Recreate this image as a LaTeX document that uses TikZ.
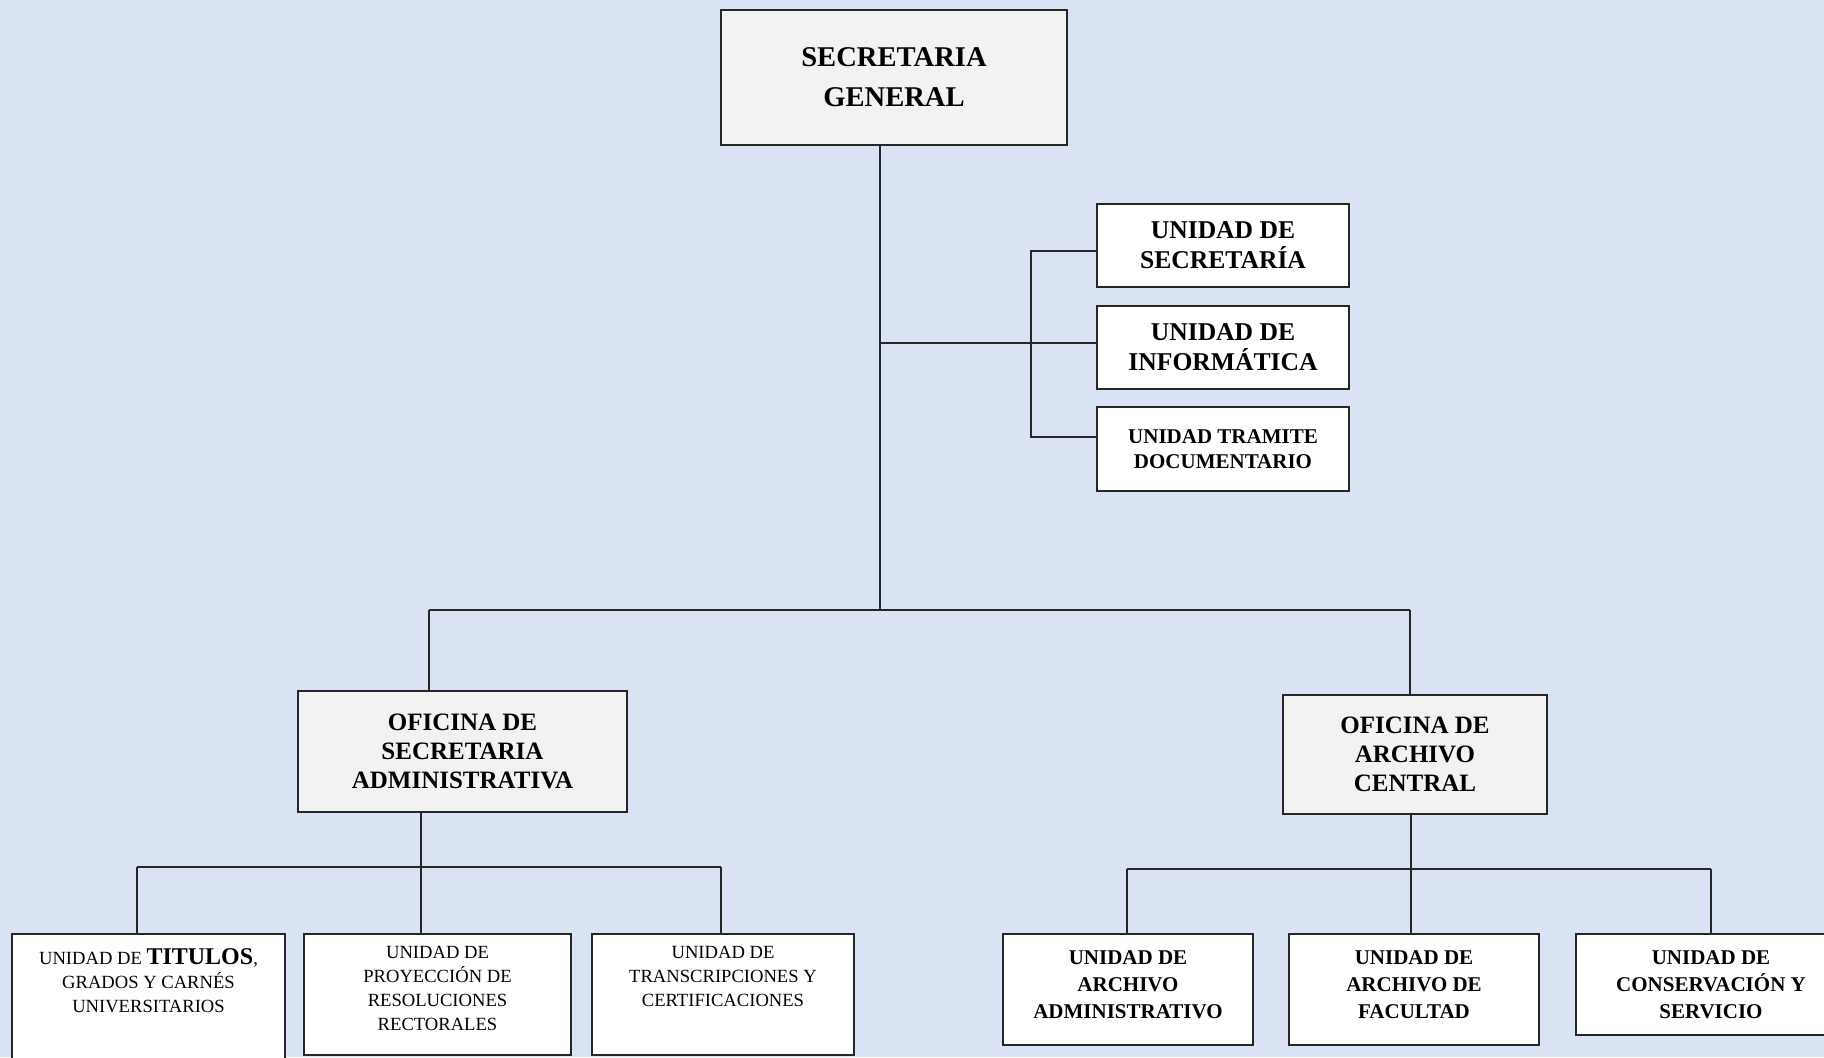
\documentclass[tikz,border=0pt]{standalone}
\usepackage{fontspec}
\setmainfont{Liberation Serif}
\definecolor{bgblue}{HTML}{DAE3F3}
\definecolor{boxgray}{HTML}{F2F2F2}
\definecolor{linec}{HTML}{262626}
\newcommand{\dn}{\rule[-5pt]{0pt}{5pt}}
\begin{document}
\begin{tikzpicture}[x=0.5pt,y=-0.5pt,
  box/.style={draw=linec, line width=1pt, rectangle, inner sep=0pt, align=center},
  graybox/.style={box, fill=boxgray},
  whitebox/.style={box, fill=white},
  conn/.style={draw=linec, line width=1pt},
  topfont/.style={font=\bfseries\fontsize{14.3}{20}\selectfont},
  unitfont/.style={font=\bfseries\fontsize{12.8}{15}\selectfont},
  smallunitfont/.style={font=\bfseries\fontsize{10.5}{12.8}\selectfont},
  offfont/.style={font=\bfseries\fontsize{12.5}{14.5}\selectfont},
  brfont/.style={font=\bfseries\fontsize{10.5}{13.4}\selectfont},
  blfont/.style={font=\fontsize{9.3}{12}\selectfont, align=center, anchor=north, inner sep=0pt}
]
\clip (0,0) rectangle (1824,1057);
\fill[bgblue] (0,0) rectangle (1824,1057);
\useasboundingbox (0,0) rectangle (1824,1057);

% top
\node[graybox, topfont, minimum width=173pt, minimum height=67.5pt] (top) at (894,77.5) {SECRETARIA\\GENERAL};

% right units
\node[whitebox, unitfont, minimum width=126pt, minimum height=41.5pt] (u1) at (1223,245.5) {UNIDAD DE\\SECRETARÍA};
\node[whitebox, unitfont, minimum width=126pt, minimum height=41.5pt] (u2) at (1223,347.5) {UNIDAD DE\\INFORMÁTICA};
\node[whitebox, smallunitfont, minimum width=126pt, minimum height=42pt] (u3) at (1223,449) {UNIDAD TRAMITE\\DOCUMENTARIO};

% offices
\node[graybox, offfont, minimum width=164.5pt, minimum height=60.5pt] (offA) at (462.5,751.5) {OFICINA DE\\SECRETARIA\\ADMINISTRATIVA};
\node[graybox, offfont, minimum width=132pt, minimum height=59.5pt] (offB) at (1415,754.5) {OFICINA DE\\ARCHIVO\\CENTRAL};

% bottom left units
\node[whitebox, minimum width=136.5pt, minimum height=63pt] (bA) at (148.5,997) {};
\node[whitebox, minimum width=133.5pt, minimum height=60.5pt] (bB) at (437.5,994.5) {};
\node[whitebox, minimum width=131pt, minimum height=60.5pt] (bC) at (723,994.5) {};
\node[blfont] (tA) at ([yshift=-7.5pt]bA.north) {UNIDAD DE {\bfseries\fontsize{12}{12}\selectfont TITULOS},\\GRADOS Y CARNÉS\\UNIVERSITARIOS};
\node[blfont] (tB) at ([yshift=-6.5pt]bB.north) {UNIDAD DE\\PROYECCIÓN DE\\RESOLUCIONES\\RECTORALES};
\node[blfont] (tC) at ([yshift=-6.5pt]bC.north) {UNIDAD DE\\TRANSCRIPCIONES Y\\CERTIFICACIONES};

% bottom right units
\node[whitebox, brfont, minimum width=125pt, minimum height=55.5pt] (bD) at (1128,989.5) {UNIDAD DE\\ARCHIVO\\ADMINISTRATIVO\dn};
\node[whitebox, brfont, minimum width=125pt, minimum height=55.5pt] (bE) at (1414,989.5) {UNIDAD DE\\ARCHIVO DE\\FACULTAD\dn};
\node[whitebox, brfont, minimum width=135pt, minimum height=50.5pt] (bF) at (1711,984.5) {UNIDAD DE\\CONSERVACIÓN Y\\SERVICIO};

% junctions
\coordinate (j0) at (880,610);
\coordinate (j2) at (880,343);
\coordinate (ja) at (429,610);
\coordinate (jb) at (1410,610);
\coordinate (brt) at (1031,251);
\coordinate (brb) at (1031,437);
\coordinate (la) at (137,867);
\coordinate (lb) at (421,867);
\coordinate (lc) at (721,867);
\coordinate (ra) at (1127,869);
\coordinate (rb) at (1411,869);
\coordinate (rc) at (1711,869);

% connectors
\draw[conn] (top.south -| j0) -- (j0);
\draw[conn] (j2) -- (u2.west |- j2);
\draw[conn] (u1.west |- brt) -- (brt) -- (brb) -- (u3.west |- brb);
\draw[conn] (ja) -- (jb);
\draw[conn] (ja) -- (ja |- offA.north);
\draw[conn] (jb) -- (jb |- offB.north);

\draw[conn] (offA.south -| lb) -- (lb |- bB.north);
\draw[conn] (la) -- (lc);
\draw[conn] (la) -- (la |- bA.north);
\draw[conn] (lc) -- (lc |- bC.north);

\draw[conn] (offB.south -| rb) -- (rb |- bE.north);
\draw[conn] (ra) -- (rc);
\draw[conn] (ra) -- (ra |- bD.north);
\draw[conn] (rc) -- (rc |- bF.north);
\end{tikzpicture}
\end{document}
